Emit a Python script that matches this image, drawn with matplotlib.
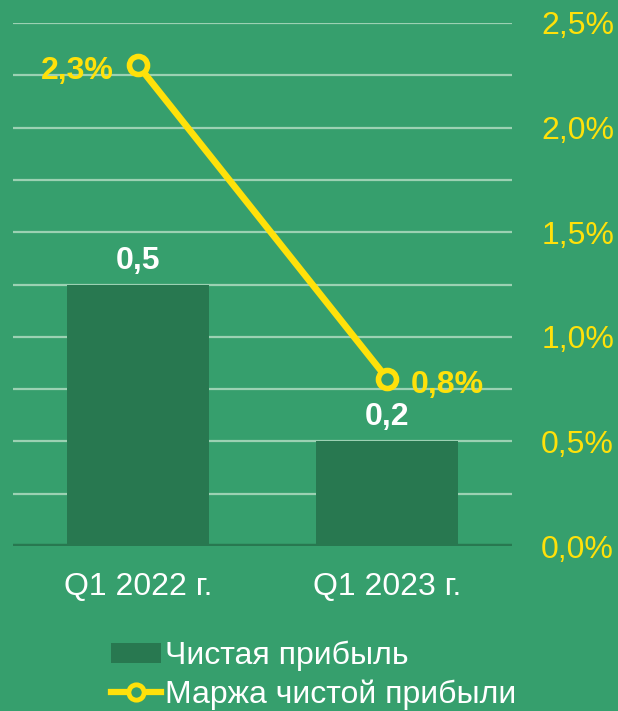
import matplotlib
matplotlib.use("Agg")
import matplotlib.pyplot as plt
from matplotlib.lines import Line2D
from matplotlib.patches import Patch

categories = ["Q1 2022 г.", "Q1 2023 г."]
net_profit = [0.5, 0.2]
net_profit_labels = ["0,5", "0,2"]
margin = [2.3, 0.8]
margin_labels = ["2,3%", "0,8%"]
right_ticks = [0.0, 0.5, 1.0, 1.5, 2.0, 2.5]
right_tick_labels = ["0,0%", "0,5%", "1,0%", "1,5%", "2,0%", "2,5%"]
legend_labels = ["Чистая прибыль", "Маржа чистой прибыли"]

BG = "#369F6D"
BAR = "#287850"
GRID = "#9CD1B3"
YEL = "#FFE10A"

plt.rcParams['font.family'] = ['Liberation Sans', 'DejaVu Sans']
FS = 23

fig = plt.figure(figsize=(6.18, 7.11), dpi=100, facecolor=BG)
ax = fig.add_axes([13/618, 1-546/711, 499/618, 523/711])
ax.set_facecolor(BG)
for s in ax.spines.values():
    s.set_visible(False)

x = list(range(len(categories)))
ax.set_xlim(-0.5, 1.5)
ax.set_ylim(0, 1.0)
ax.set_yticks([0.1*i for i in range(1, 11)])
ax.yaxis.grid(True, color=GRID, linewidth=1.6)
ax.set_axisbelow(True)
ax.bar(x, net_profit, width=0.57, color=BAR, zorder=2)
ax.axhline(0, color=BAR, linewidth=3.2, zorder=3)
for xi, v, lab in zip(x, net_profit, net_profit_labels):
    ax.annotate(lab, (xi, v), xytext=(0, 11.5), textcoords='offset points',
                ha='center', va='baseline', color='white', fontsize=FS, fontweight='bold')
ax.set_xticks(x)
ax.set_xticklabels(categories, color='white', fontsize=FS)
ax.tick_params(axis='x', length=0, pad=19)

ax2 = ax.twinx()
ax.tick_params(axis='y', left=False, right=False, labelleft=False, labelright=False, length=0)
for s in ax2.spines.values():
    s.set_visible(False)
ax2.set_ylim(0, 2.5)
ax2.set_yticks(right_ticks)
ax2.set_yticklabels(right_tick_labels, color=YEL, fontsize=FS)
ax2.tick_params(axis='y', length=0, pad=21)
ax2.plot(x, margin, color=YEL, linewidth=4.8, marker='o', markersize=13,
         markerfacecolor=BG, markeredgecolor=YEL, markeredgewidth=4.0, zorder=5)
ax2.annotate(margin_labels[0], (x[0], margin[0]), xytext=(-17, -2), textcoords='offset points',
             ha='right', va='center_baseline', color=YEL, fontsize=FS, fontweight='bold')
ax2.annotate(margin_labels[1], (x[1], margin[1]), xytext=(17, -2), textcoords='offset points',
             ha='left', va='center_baseline', color=YEL, fontsize=FS, fontweight='bold')

handles = [Patch(facecolor=BAR, edgecolor='none'),
           Line2D([0], [0], color=YEL, linewidth=4.5, marker='o', markersize=11,
                  markerfacecolor=BG, markeredgecolor=YEL, markeredgewidth=3.5)]
leg = fig.legend(handles, legend_labels, loc='upper left',
                 bbox_to_anchor=(111/618, 1-641/711), frameon=False,
                 fontsize=FS, labelcolor='white', borderaxespad=0, borderpad=0,
                 handlelength=1.55, handletextpad=0.15, labelspacing=0.25, handleheight=0.55)

fig.savefig("out.png", dpi=100, facecolor=BG)
